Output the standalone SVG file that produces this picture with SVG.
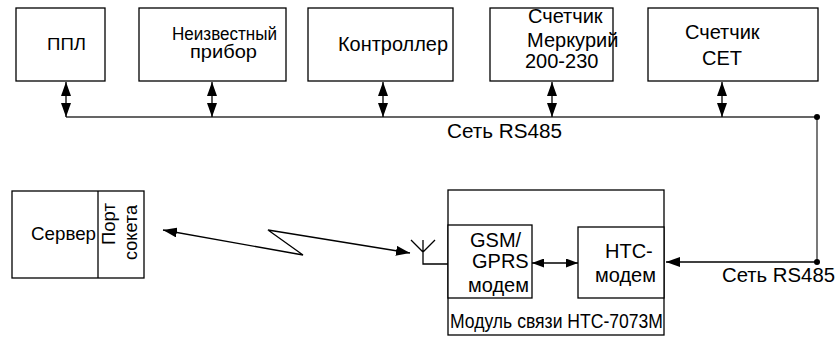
<svg xmlns="http://www.w3.org/2000/svg" width="840" height="337" viewBox="0 0 840 337">
  <style>
    .box { fill: #fff; stroke: #000; stroke-width: 1.3; }
    .ln { fill: none; stroke: #000; stroke-width: 1.3; }
    .bus { fill: none; stroke: #333; stroke-width: 1.3; }
    text { font-family: "Liberation Sans", Arial, sans-serif; fill: #000; }
    .t16 { font-size: 16.5px; }
    .t18 { font-size: 18px; }
    .t19 { font-size: 19px; }
    .t20 { font-size: 20px; }
    .t21 { font-size: 21px; }
  </style>
  <defs>
    <marker id="head" viewBox="0 0 14 10" refX="14" refY="5" markerWidth="14" markerHeight="10" markerUnits="userSpaceOnUse" orient="auto-start-reverse">
      <path d="M0,0 L14,5 L0,10 Z" fill="#000"/>
    </marker>
    <marker id="headS" viewBox="0 0 12 9" refX="12" refY="4.5" markerWidth="12" markerHeight="9" markerUnits="userSpaceOnUse" orient="auto-start-reverse">
      <path d="M0,0 L12,4.5 L0,9 Z" fill="#000"/>
    </marker>
  </defs>

  <!-- Devices on the RS485 bus -->
  <g id="ppl">
    <rect class="box" x="16" y="8" width="89" height="73"/>
    <text class="t16" x="47" y="50" textLength="39" lengthAdjust="spacingAndGlyphs">ППЛ</text>
  </g>
  <g id="unknown-device">
    <rect class="box" x="139" y="8" width="147" height="73"/>
    <text class="t18" x="172" y="40" textLength="105" lengthAdjust="spacingAndGlyphs">Неизвестный</text>
    <text class="t18" x="190" y="58" textLength="67" lengthAdjust="spacingAndGlyphs">прибор</text>
  </g>
  <g id="controller">
    <rect class="box" x="308" y="8" width="145" height="73"/>
    <text class="t21" x="338" y="51" textLength="110" lengthAdjust="spacingAndGlyphs">Контроллер</text>
  </g>
  <g id="mercury">
    <rect class="box" x="490" y="8" width="123" height="73"/>
    <text class="t20" x="528" y="23">Счетчик</text>
    <text class="t20" x="527" y="46.5">Меркурий</text>
    <text class="t20" x="525" y="68">200-230</text>
  </g>
  <g id="set-meter">
    <rect class="box" x="648" y="8" width="170" height="73"/>
    <text class="t20" x="685" y="39">Счетчик</text>
    <text class="t20" x="702" y="65">СЕТ</text>
  </g>

  <!-- Server with socket port -->
  <g id="server">
    <rect class="box" x="12" y="191" width="132" height="87"/>
    <line class="ln" x1="98" y1="191" x2="98" y2="278"/>
    <text class="t19" x="31" y="240" textLength="65" lengthAdjust="spacingAndGlyphs">Сервер</text>
    <text class="t18" transform="translate(115,203) rotate(-90)" text-anchor="end" textLength="42" lengthAdjust="spacingAndGlyphs">Порт</text>
    <text class="t18" transform="translate(136.5,205) rotate(-90)" text-anchor="end" textLength="55" lengthAdjust="spacingAndGlyphs">сокета</text>
  </g>

  <!-- Communication module -->
  <g id="module">
    <rect class="box" x="448" y="190" width="216" height="145"/>
    <text class="t20" x="450" y="328" textLength="213" lengthAdjust="spacingAndGlyphs">Модуль связи НТС-7073М</text>
  </g>
  <g id="gsm-modem">
    <rect class="box" x="448" y="225" width="84" height="73"/>
    <text class="t20" x="470" y="246.5">GSM/</text>
    <text class="t20" x="472" y="268">GPRS</text>
    <text class="t20" x="468" y="291.5">модем</text>
  </g>
  <g id="htc-modem">
    <rect class="box" x="578" y="227" width="86" height="71"/>
    <text class="t20" x="605" y="258">НТС-</text>
    <text class="t20" x="595" y="281.5">модем</text>
  </g>
  <g id="antenna">
    <path class="ln" d="M423,240 V264 H448 M411,240 L423,252 L435,240"/>
  </g>

  <!-- Connectors -->
  <g id="connectors">
    <path class="bus" d="M66,117 H817 V262"/>
    <line class="ln" x1="817" y1="262" x2="666" y2="262" marker-end="url(#head)"/>
    <circle cx="817" cy="117" r="3" fill="#000"/>
    <circle cx="817" cy="262" r="3" fill="#000"/>

    <line class="ln" x1="66" y1="82" x2="66" y2="117" marker-start="url(#head)" marker-end="url(#head)"/>
    <line class="ln" x1="212" y1="82" x2="212" y2="117" marker-start="url(#head)" marker-end="url(#head)"/>
    <line class="ln" x1="383" y1="82" x2="383" y2="117" marker-start="url(#head)" marker-end="url(#head)"/>
    <line class="ln" x1="552" y1="82" x2="552" y2="117" marker-start="url(#head)" marker-end="url(#head)"/>
    <line class="ln" x1="722" y1="82" x2="722" y2="117" marker-start="url(#head)" marker-end="url(#head)"/>

    <line class="ln" x1="532" y1="263" x2="578" y2="263" marker-start="url(#headS)" marker-end="url(#headS)"/>

    <polyline class="ln" points="163,230 303,255 268,230 410,253" marker-start="url(#head)" marker-end="url(#head)"/>

    <text class="t20" x="447" y="138" textLength="115" lengthAdjust="spacingAndGlyphs">Сеть RS485</text>
    <text class="t20" x="722" y="281.5" textLength="113" lengthAdjust="spacingAndGlyphs">Сеть RS485</text>
  </g>
</svg>
